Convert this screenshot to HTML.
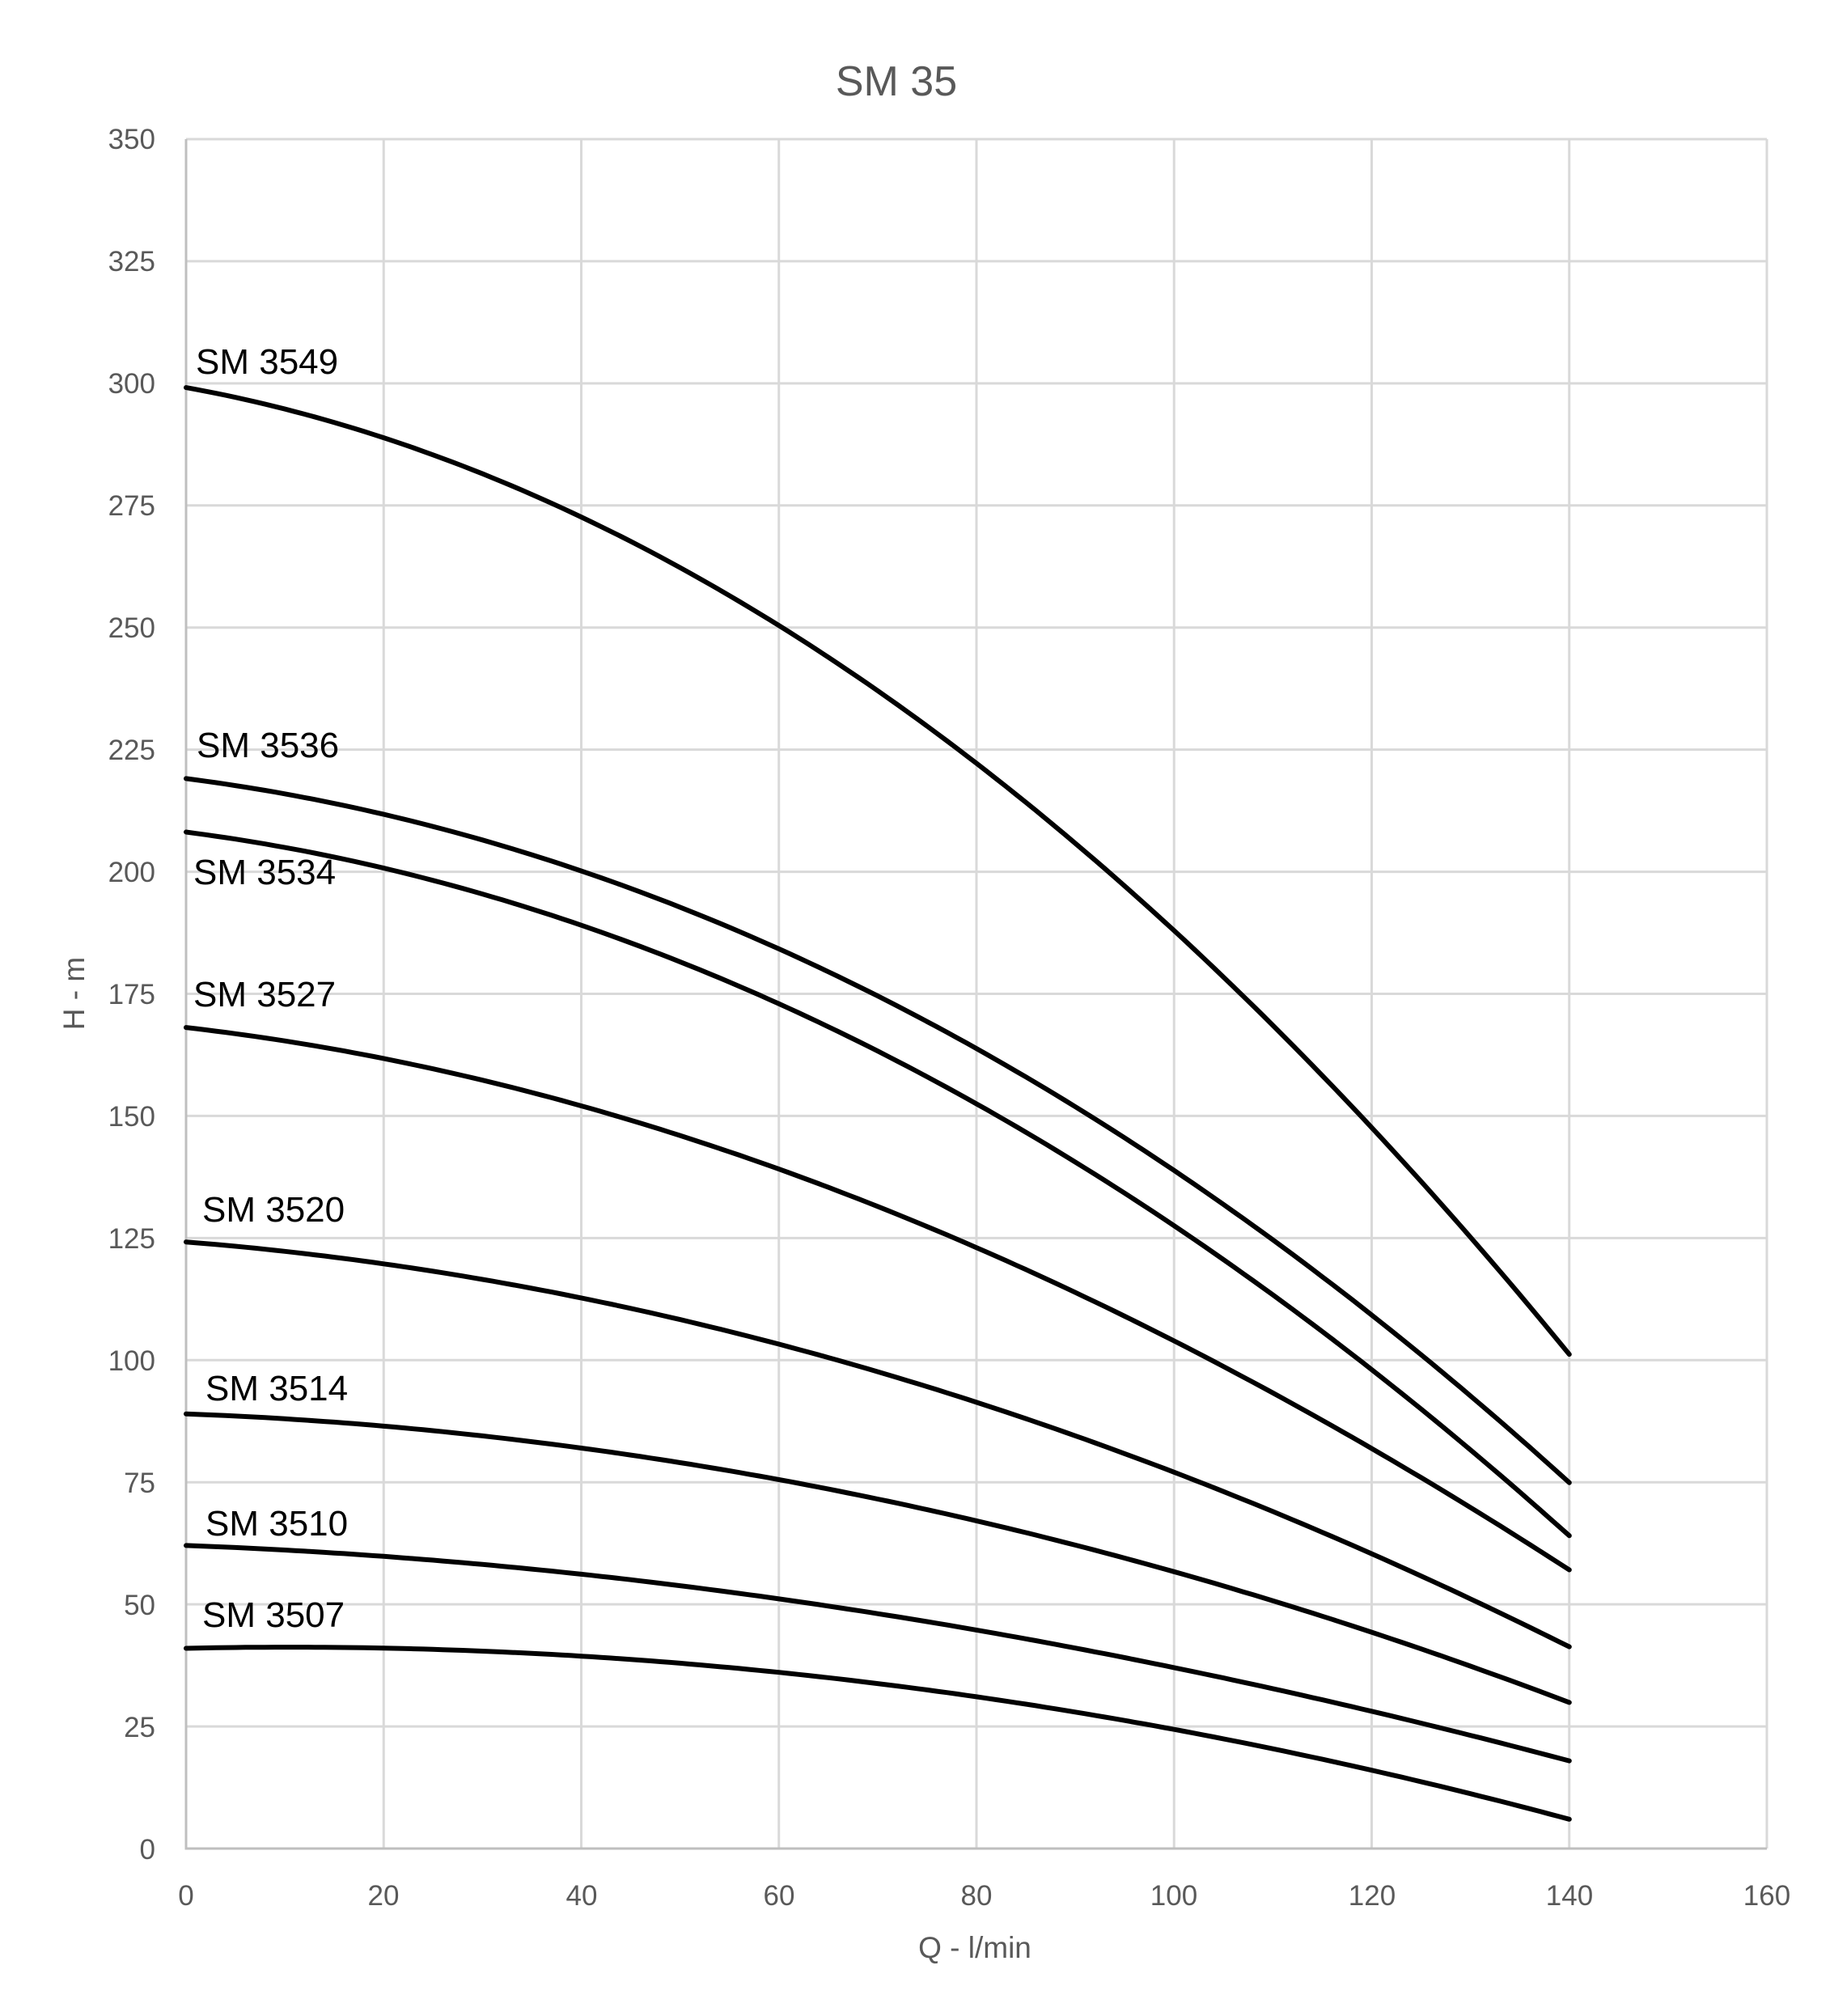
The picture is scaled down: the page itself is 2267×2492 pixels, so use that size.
<!DOCTYPE html>
<html><head><meta charset="utf-8"><style>
html,body{margin:0;padding:0;background:#fff}
svg{display:block}
text{font-family:"Liberation Sans",sans-serif}
</style></head><body>
<svg id="s" width="2267" height="2492" viewBox="0 0 2267 2492" xmlns="http://www.w3.org/2000/svg">
<g id="grid" stroke="#d9d9d9" stroke-width="3"></g>
<g font-size="35" fill="#595959" id="yt" text-anchor="end">
<text x="192" y="184">350</text><text x="192" y="335">325</text><text x="192" y="486">300</text><text x="192" y="637">275</text><text x="192" y="788">250</text><text x="192" y="939">225</text><text x="192" y="1090">200</text><text x="192" y="1241">175</text><text x="192" y="1392">150</text><text x="192" y="1543">125</text><text x="192" y="1694">100</text><text x="192" y="1845">75</text><text x="192" y="1996">50</text><text x="192" y="2147">25</text><text x="192" y="2298">0</text>
</g>
<g font-size="35" fill="#595959" text-anchor="middle">
<text x="230" y="2355">0</text><text x="474" y="2355">20</text><text x="719" y="2355">40</text><text x="963" y="2355">60</text><text x="1207" y="2355">80</text><text x="1451" y="2355">100</text><text x="1696" y="2355">120</text><text x="1940" y="2355">140</text><text x="2184" y="2355">160</text>
</g>
<text x="1108" y="118" font-size="52" fill="#595959" text-anchor="middle">SM 35</text>
<text x="1205" y="2420" font-size="37" fill="#595959" text-anchor="middle">Q - l/min</text>
<text x="0" y="0" font-size="37" fill="#595959" text-anchor="middle" transform="translate(104,1228) rotate(-90)">H - m</text>
<g id="curves" fill="none" stroke="#000" stroke-width="6" stroke-linecap="round"></g>
<g font-size="44" fill="#000">
<text x="242" y="462">SM 3549</text>
<text x="243" y="936">SM 3536</text>
<text x="239" y="1093">SM 3534</text>
<text x="239" y="1244">SM 3527</text>
<text x="250" y="1510">SM 3520</text>
<text x="254" y="1731">SM 3514</text>
<text x="254" y="1898">SM 3510</text>
<text x="250" y="2011">SM 3507</text>
</g>
</svg>
<script>
var L=230,R=2184,T=172,B=2285;
function X(q){return L+(R-L)*q/160}
function Y(h){return B-(B-T)*h/350}
var g=document.getElementById('grid'),ns='http://www.w3.org/2000/svg';
for(var i=0;i<=8;i++){var l=document.createElementNS(ns,'line');var x=X(i*20);l.setAttribute('x1',x);l.setAttribute('x2',x);l.setAttribute('y1',T);l.setAttribute('y2',B);g.appendChild(l);}
for(var j=0;j<=14;j++){var l=document.createElementNS(ns,'line');var y=Y(j*25);l.setAttribute('x1',L);l.setAttribute('x2',R);l.setAttribute('y1',y);l.setAttribute('y2',y);g.appendChild(l);}
var ax=document.createElementNS(ns,'path');ax.setAttribute('d','M'+L+' '+T+'V'+B+'H'+R);ax.setAttribute('stroke','#bfbfbf');ax.setAttribute('fill','none');g.appendChild(ax);
var data=[
[299,289,273,250,222,188,148,101],
[219,212,200,184,164,139,109,75],
[208,201,189,173,152,128,98,64],
[168,162,152,139,123,104,82,57],
[124,120,113,103,91,77,61,41],
[89,86.5,82,75.5,67,57,44,30],
[62,60,56,51,45,37,28,18],
[41,41,39.5,36,31,24.5,16,6]];
function fit(d){ // cubic least squares
 var n=4,A=[],b=[];for(var r=0;r<n;r++){A.push([0,0,0,0]);b.push(0);}
 d.forEach(function(h,k){var t=k/7;var p=[1,t,t*t,t*t*t];for(var r=0;r<n;r++){b[r]+=p[r]*h;for(var s=0;s<n;s++)A[r][s]+=p[r]*p[s];}});
 for(var c=0;c<n;c++){for(var r=c+1;r<n;r++){var f=A[r][c]/A[c][c];for(var s=c;s<n;s++)A[r][s]-=f*A[c][s];b[r]-=f*b[c];}}
 var x=[0,0,0,0];for(var r=n-1;r>=0;r--){var v=b[r];for(var s=r+1;s<n;s++)v-=A[r][s]*x[s];x[r]=v/A[r][r];}
 return x;}
var c=document.getElementById('curves');
data.forEach(function(d){
 var co=fit(d),s='';
 for(var k=0;k<=140;k++){var t=k/140;var h=co[0]+co[1]*t+co[2]*t*t+co[3]*t*t*t;s+=(k?'L':'M')+X(k).toFixed(1)+' '+Y(h).toFixed(1);}
 var e=document.createElementNS(ns,'path');e.setAttribute('d',s);c.appendChild(e);
});
</script>
</body></html>
